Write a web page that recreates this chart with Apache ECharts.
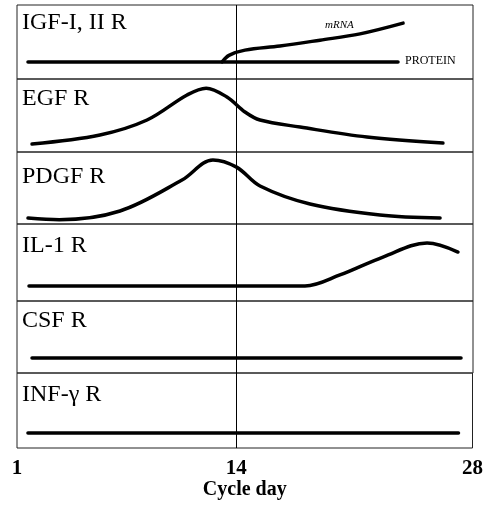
<!DOCTYPE html>
<html><head><meta charset="utf-8">
<script src="https://cdn.jsdelivr.net/npm/echarts@6/dist/echarts.min.js"></script>
<style>html,body{margin:0;padding:0;background:#fff}#c{width:486px;height:505px}</style>
</head><body><div id="c"></div>
<script>
// ---- data (x = cycle day, y = relative level 0..10 within each panel) ----
const xTickLabels = [1, 14, 28];
const panelLabels = ['IGF-I, II R', 'EGF R', 'PDGF R', 'IL-1 R', 'CSF R', 'INF-γ R'];

const igfProteinDays = [1.65, 23.56];
const igfProteinVals = [2.3, 2.3];
const igfMrnaDays = [13.14, 13.55, 14.50, 16.57, 18.94, 21.31, 23.86];
const igfMrnaVals = [2.3, 3.2, 3.9, 4.45, 5.25, 6.1, 7.55];

const egfDays = [1.89, 5.91, 8.70, 11.07, 12.2, 13.43, 14.50, 15.39, 17.76, 21.72, 26.22];
const egfVals = [1.10, 2.33, 4.38, 7.81, 8.75, 7.53, 5.48, 4.38, 3.42, 2.05, 1.23];

const pdgfDays = [1.65, 3.5, 7.10, 10.77, 12.6, 14.0, 15.39, 18.35, 22.49, 26.05];
const pdgfVals = [0.83, 0.6, 1.81, 6.11, 8.9, 7.9, 5.28, 2.78, 1.25, 0.83];

const il1Days = [1.71, 14.50, 18.05, 20.12, 22.67, 25.28, 27.11];
const il1Vals = [1.95, 1.95, 1.95, 3.38, 5.71, 7.53, 6.36];

const csfDays = [1.89, 27.29];
const csfVals = [2.08, 2.08];

const infDays = [1.65, 27.17];
const infVals = [2.0, 2.0];

const markDay = 14;

// ---- layout ----
const left = 17, right = 13;
const panelTops = [5, 79, 152, 224, 301, 373];
const panelBottom = 448;
const labelOffsets = [18, 20, 25, 22, 20, 22];

const zip = (xs, ys) => xs.map((x, i) => [x, ys[i]]);

const grids = [], xAxes = [], yAxes = [], series = [], graphics = [];
const panelData = [
  [igfProteinDays, igfProteinVals, igfMrnaDays, igfMrnaVals],
  [egfDays, egfVals],
  [pdgfDays, pdgfVals],
  [il1Days, il1Vals],
  [csfDays, csfVals],
  [infDays, infVals]
];
const serif = '"Liberation Serif", "DejaVu Serif", serif';

panelTops.forEach((top, i) => {
  const h = (i < 5 ? panelTops[i + 1] : panelBottom) - top;
  grids.push({ left: left, right: right, top: top, height: h, show: true,
    borderColor: '#222', borderWidth: 1, backgroundColor: 'transparent' });
  const last = i === 5;
  xAxes.push({
    type: 'value', gridIndex: i, min: 1, max: 28, interval: 1,
    axisLine: { show: false }, axisTick: { show: false }, splitLine: { show: false },
    axisLabel: last ? {
      show: true, margin: 10, color: '#000', fontFamily: serif, fontWeight: 'bold', fontSize: 21,
      showMinLabel: true, showMaxLabel: true,
      formatter: v => (xTickLabels.indexOf(v) >= 0 ? String(v) : '')
    } : { show: false },
    name: last ? 'Cycle day' : '', nameLocation: 'middle', nameGap: 32,
    nameTextStyle: { color: '#000', fontFamily: serif, fontWeight: 'bold', fontSize: 20 }
  });
  yAxes.push({ type: 'value', gridIndex: i, min: 0, max: 10, show: false, splitLine: { show: false } });
  const d = panelData[i];
  for (let k = 0; k < d.length; k += 2) {
    series.push({
      type: 'line', xAxisIndex: i, yAxisIndex: i, data: zip(d[k], d[k + 1]),
      smooth: 0.35, showSymbol: false, symbol: 'none', silent: true,
      lineStyle: { color: '#000', width: 3.5, cap: 'round', join: 'round' },
      markLine: k === 0 ? {
        silent: true, symbol: 'none', label: { show: false },
        lineStyle: { color: '#000', width: 1, type: 'solid' },
        data: [{ xAxis: markDay }]
      } : undefined,
      z: 3
    });
  }
  graphics.push({
    type: 'text', left: 22, top: top + labelOffsets[i] - 12,
    style: { text: panelLabels[i], fontFamily: serif, fontSize: 24, fill: '#000' }
  });
});

graphics.push({ type: 'text', left: 325, top: 20,
  style: { text: 'mRNA', fontFamily: serif, fontStyle: 'italic', fontSize: 11, fill: '#000' } });
graphics.push({ type: 'text', left: 405, top: 55,
  style: { text: 'PROTEIN', fontFamily: serif, fontSize: 12, fill: '#000' } });

const chart = echarts.init(document.getElementById('c'), null, { renderer: 'canvas' });
chart.setOption({
  animation: false,
  backgroundColor: '#fff',
  grid: grids, xAxis: xAxes, yAxis: yAxes, series: series, graphic: graphics
});
</script></body></html>
